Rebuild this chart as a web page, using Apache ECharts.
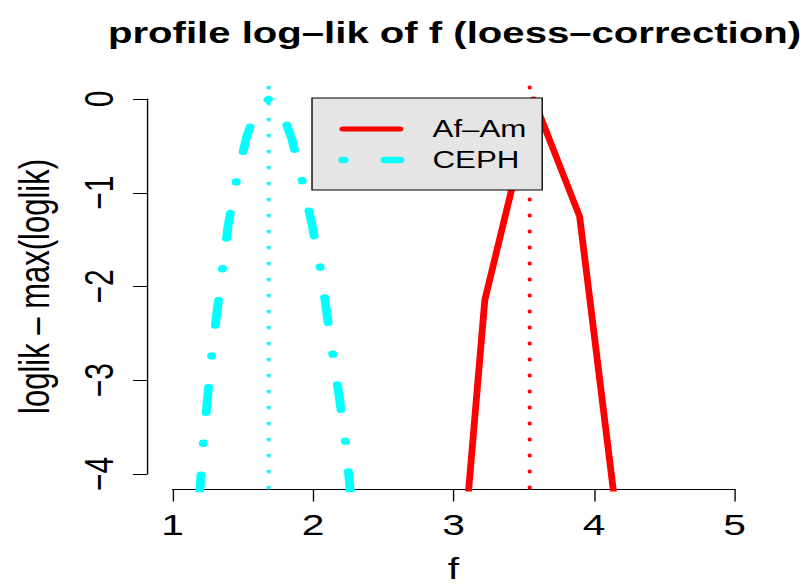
<!DOCTYPE html>
<html>
<head>
<meta charset="utf-8">
<script src="https://cdn.jsdelivr.net/npm/echarts@6/dist/echarts.min.js"></script>
<style>
  html, body { margin: 0; padding: 0; background: #fff; overflow: hidden; }
  #wrap { width: 807px; height: 586px; overflow: hidden; }
  #chart { height: 586px; transform-origin: 0 0; }
</style>
</head>
<body>
<div id="wrap"><div id="chart"></div></div>
<script>
// Axis ticks and their labels
const xTicks = [1, 2, 3, 4, 5];
const yTicks = [-4, -3, -2, -1, 0];
const yTickLabels = ['\u22124', '\u22123', '\u22122', '\u22121', '0'];

// Profile log-likelihood (relative to its maximum) over f, Af-Am sample
const afamF  = [2.89, 3.223, 3.57, 3.898, 4.23];
const afamLL = [-8.0, -2.144, 0, -1.255, -5.3];

// Profile log-likelihood over f, CEPH sample
const cephF  = [1.189, 1.219, 1.249, 1.279, 1.316, 1.357, 1.397, 1.457, 1.528, 1.587, 1.636, 1.686,
                1.736, 1.786, 1.850, 1.926, 1.996, 2.054, 2.099, 2.144, 2.191, 2.234, 2.273];
const cephLL = [-4.30, -3.67, -3.20, -2.73, -2.28, -1.80, -1.34, -0.86, -0.40, -0.16, -0.04, 0,
                -0.04, -0.16, -0.43, -0.89, -1.36, -1.82, -2.29, -2.76, -3.22, -3.69, -4.30];

// Estimated f for each sample (vertical reference lines)
const afamEst = 3.542;
const cephEst = 1.679;

const seriesNames = ['Af\u2013Am', 'CEPH'];

// The drawing is laid out in a narrower frame and widened horizontally.
const SX = 1.36;
const W = 807, H = 586;
const hx = px => px / SX;
document.getElementById('chart').style.width = (W / SX) + 'px';
document.getElementById('chart').style.transform = 'scaleX(' + SX + ')';

const FONT = '"Liberation Sans", Arial, Helvetica, sans-serif';
const RED = '#ff0000', CYAN = '#00ffff';
const CEPH_DASH = [1, 30, 25.5, 31];

// Plot region (with 4% padding beyond the tick range) and tick frame
const plotL = 150, plotR = 757.5, plotT = 84, plotB = 489;
const tickL = 172.5, tickR = 735, tickT = 99, tickB = 474;

const dotted = (color) => ({
  color, width: 3, type: [1, 15], cap: 'round', dashOffset: 14.7
});

const chart = echarts.init(document.getElementById('chart'), null, { renderer: 'svg' });
chart.setOption({
  animation: false,
  backgroundColor: '#fff',
  title: {
    text: 'profile log\u2013lik of f (loess\u2013correction)',
    left: hx(454.5), top: 18, padding: 0, textAlign: 'center',
    textStyle: { fontFamily: FONT, fontSize: 29.5, fontWeight: 'bold', color: '#000' }
  },
  legend: {
    orient: 'vertical',
    left: hx(312), top: 98, z: 20,
    padding: [19, 11.6, 18, 19.4],
    itemWidth: 42, itemHeight: 24, itemGap: 7,
    backgroundColor: '#e5e5e5', borderColor: '#000', borderWidth: 1, borderRadius: 0,
    textStyle: { fontFamily: FONT, fontSize: 23, lineHeight: 24, color: '#000', padding: [0, 0, 0, 19] },
    selectedMode: false,
    data: [
      { name: seriesNames[0],
        itemStyle: { opacity: 0 },
        lineStyle: { color: RED, width: 5, type: 'solid', cap: 'round', opacity: 1 } },
      { name: seriesNames[1],
        itemStyle: { opacity: 0 },
        lineStyle: { color: CYAN, width: 6.5, type: CEPH_DASH, cap: 'round', dashOffset: 0, opacity: 1 } }
    ]
  },
  grid: [
    { left: hx(plotL), right: hx(W - plotR), top: plotT, bottom: H - plotB,
      outerBoundsMode: 'none', containLabel: false },
    { left: hx(tickL), right: hx(W - tickR), top: tickT, bottom: H - tickB,
      outerBoundsMode: 'none', containLabel: false }
  ],
  xAxis: [
    { gridIndex: 0, type: 'value', min: 0.84, max: 5.16, show: false },
    { gridIndex: 1, type: 'value', position: 'bottom',
      min: xTicks[0], max: xTicks[xTicks.length - 1], interval: 1,
      offset: plotB - tickB,
      name: 'f', nameLocation: 'middle', nameGap: 68,
      nameTextStyle: { fontFamily: FONT, fontSize: 30, lineHeight: 24, color: '#000' },
      axisLine: { show: true, onZero: false, lineStyle: { color: '#000', width: 1 } },
      axisTick: { show: true, length: 12.5, lineStyle: { color: '#000', width: 1 } },
      axisLabel: { fontFamily: FONT, fontSize: 30, color: '#000', margin: 21 },
      splitLine: { show: false }
    }
  ],
  yAxis: [
    { gridIndex: 0, type: 'value', min: -4.16, max: 0.16, show: false },
    { gridIndex: 1, type: 'value', position: 'left',
      min: yTicks[0], max: yTicks[yTicks.length - 1], interval: 1,
      offset: hx(tickL - 147),
      name: 'loglik \u2013 max(loglik)', nameLocation: 'middle', nameGap: 67,
      nameTextStyle: { fontFamily: FONT, fontSize: 31, color: '#000' },
      axisLine: { show: true, onZero: false, lineStyle: { color: '#000', width: 1 } },
      axisTick: { show: true, length: hx(14), lineStyle: { color: '#000', width: 1 } },
      axisLabel: { fontFamily: FONT, fontSize: 30, color: '#000', margin: 20, rotate: 90,
        formatter: v => yTickLabels[yTicks.indexOf(v)] },
      splitLine: { show: false }
    }
  ],
  series: [
    {
      name: seriesNames[0], type: 'line', xAxisIndex: 0, yAxisIndex: 0,
      data: afamF.map((f, i) => [f, afamLL[i]]),
      symbol: 'none', showSymbol: false, clip: true, z: 1,
      lineStyle: { color: RED, width: 5, cap: 'round', join: 'round' },
      itemStyle: { color: RED },
      emphasis: { disabled: true },
      markLine: {
        silent: true, symbol: 'none', label: { show: false }, animation: false, z: 1,
        lineStyle: dotted(RED),
        data: [{ xAxis: afamEst }]
      }
    },
    {
      name: seriesNames[1], type: 'line', xAxisIndex: 0, yAxisIndex: 0,
      data: cephF.map((f, i) => [f, cephLL[i]]),
      symbol: 'none', showSymbol: false, clip: true, z: 1,
      lineStyle: { color: CYAN, width: 6.5, type: CEPH_DASH, dashOffset: 28.8,
                   cap: 'round', join: 'round' },
      itemStyle: { color: CYAN },
      emphasis: { disabled: true },
      markLine: {
        silent: true, symbol: 'none', label: { show: false }, animation: false, z: 1,
        lineStyle: dotted(CYAN),
        data: [{ xAxis: cephEst }]
      }
    }
  ]
});
</script>
</body>
</html>
